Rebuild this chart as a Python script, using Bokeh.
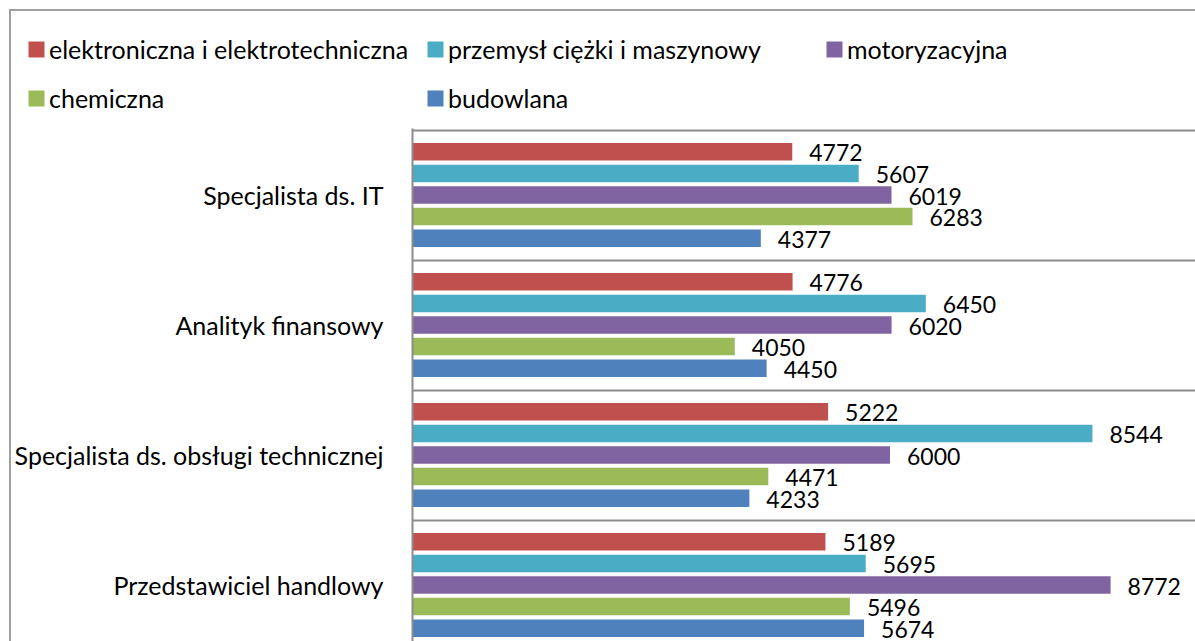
from bokeh.plotting import figure
from bokeh.layouts import column
from bokeh.models import ColumnDataSource, Range1d, FixedTicker, Legend, LegendItem
from bokeh.core.properties import value
from bokeh.embed import file_html
from bokeh.resources import INLINE

categories = ["Specjalista ds. IT", "Analityk finansowy",
              "Specjalista ds. obsługi technicznej", "Przedstawiciel handlowy"]
series = ["elektroniczna i elektrotechniczna", "przemysł ciężki i maszynowy",
          "motoryzacyjna", "chemiczna", "budowlana"]
colors = ["#C0504D", "#4BACC6", "#8064A2", "#9BBB59", "#4F81BD"]

elektroniczna = [4772, 4776, 5222, 5189]
przemysl = [5607, 6450, 8544, 5695]
motoryzacyjna = [6019, 6020, 6000, 8772]
chemiczna = [6283, 4050, 4471, 5496]
budowlana = [4377, 4450, 4233, 5674]
values_by_series = [elektroniczna, przemysl, motoryzacyjna, chemiczna, budowlana]

FONT = "Lato"
n = len(categories)
slot = 0.166
bar_h = 0.135
W = 1184
LEG_H = 117
MAIN_H = 513
top_end = 4 + 1.5 / 130

sources = []
for j, vals in enumerate(values_by_series):
    ys = [(n - 0.5 - i) + (2 - j) * slot for i in range(n)]
    sources.append(ColumnDataSource(dict(y=ys, v=vals, t=[str(v) for v in vals])))

# ---- legend strip ----
lf = figure(width=W, height=LEG_H, output_backend="svg", toolbar_location=None,
            x_range=Range1d(0, W), y_range=Range1d(LEG_H, 0), min_border=0)
lf.frame_align = False
lf.axis.visible = False
lf.grid.visible = False
lf.outline_line_color = None
lf.border_fill_color = "white"
# zero-height bars: invisible in the strip, but they carry the legend swatch colours
keys = [lf.hbar(y="y", left=0, right="v", height=0, source=s, fill_color=c,
                line_color=None) for s, c in zip(sources, colors)]
leg_pos = [(15, 64), (414, 64), (813, 64), (15, 15), (414, 15)]
for r, name, pos in zip(keys, series, leg_pos):
    lg = Legend(items=[LegendItem(label=name, renderers=[r])], location=pos,
                glyph_width=20, glyph_height=20, label_standoff=3, padding=0,
                margin=0, border_line_color=None, background_fill_alpha=0,
                label_text_font=FONT, label_text_font_size="25px",
                label_text_color="black")
    lf.add_layout(lg, "center")

# ---- main chart ----
p = figure(width=W, height=MAIN_H, output_backend="svg", toolbar_location=None,
           x_range=Range1d(0, 9839), y_range=Range1d(top_end - MAIN_H / 130, top_end),
           min_border_left=400, min_border_top=0, min_border_right=0,
           min_border_bottom=0)
p.frame_align = False
p.outline_line_color = None
p.border_fill_color = "white"

for s, col in zip(sources, colors):
    p.hbar(y="y", left=0, right="v", height=bar_h, source=s,
           fill_color=col, line_color=None)
    p.text(x="v", y="y", text="t", source=s, x_offset=17, y_offset=1,
           text_baseline="middle", text_align="left",
           text_font=value(FONT), text_font_size="23px", text_color="black")

p.xaxis.visible = False
p.xgrid.visible = False
p.ygrid.ticker = FixedTicker(ticks=[1, 2, 3, 4])
p.ygrid.grid_line_color = "#8c8c8c"
p.ygrid.grid_line_width = 2

ya = p.yaxis[0]
ya.ticker = FixedTicker(ticks=[n - 0.5 - i for i in range(n)])
ya.major_label_overrides = {n - 0.5 - i: c for i, c in enumerate(categories)}
ya.axis_line_color = "#8c8c8c"
ya.axis_line_width = 2
ya.major_tick_line_color = None
ya.minor_tick_line_color = None
ya.major_label_standoff = 23
ya.major_label_text_font = FONT
ya.major_label_text_font_size = "25px"
ya.major_label_text_color = "black"

layout = column(lf, p, spacing=0)
layout.margin = (9, 0, 0, 9)
layout.styles = {"border-left": "2px solid #a0a0a0", "border-top": "2px solid #a0a0a0"}

open("out.html", "w").write(file_html(layout, INLINE))
